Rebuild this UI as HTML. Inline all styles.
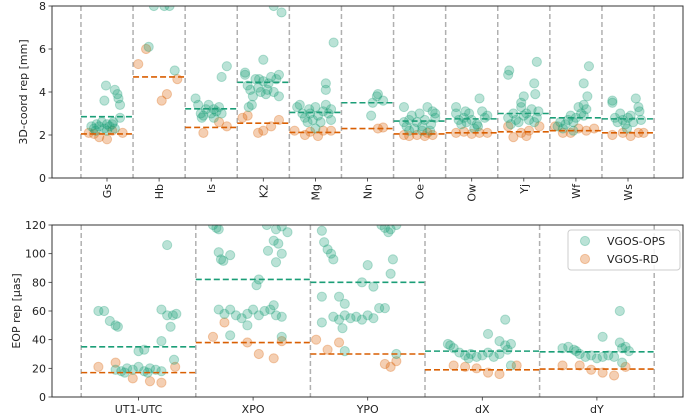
<!DOCTYPE html>
<html><head><meta charset="utf-8"><style>
body{margin:0;background:#fff}
svg{display:block;font-family:"DejaVu Sans","Liberation Sans",sans-serif}
</style></head><body>
<svg id="chart" width="685" height="416" xmlns="http://www.w3.org/2000/svg">
<defs>
<clipPath id="clipTop"><rect x="52" y="6" width="631" height="172"/></clipPath>
<clipPath id="clipBot"><rect x="52" y="225" width="631" height="172"/></clipPath>
</defs>
<g id="top"></g>
<g id="bot"></g>
</svg>
<script>
const topCats=["Gs","Hb","Is","K2","Mg","Nn","Oe","Ow","Yj","Wf","Ws"];
const topTicks=[0,2,4,6,8];
const topGreenMean=[2.85,8.6,3.22,4.45,3.05,3.5,2.65,2.75,3.0,2.8,2.75];
const topOrangeMean=[2.05,4.7,2.35,2.55,2.12,2.3,2.05,2.1,2.15,2.2,2.1];
const topGreenPts=[
[0,-.3,2.4],[0,-.25,2.3],[0,-.2,2.5],[0,-.15,2.4],[0,-.1,2.6],[0,-.05,2.3],[0,0,2.5],[0,.05,2.4],[0,.1,2.5],[0,.15,2.3],[0,-.22,2.2],[0,0,2.2],[0,-.02,4.3],[0,-.05,3.6],[0,.15,4.1],[0,.2,3.9],[0,.22,3.7],[0,.25,3.4],[0,.25,2.8],[0,.12,2.6],
[1,-.1,8],[1,.1,8],[1,.2,8],[1,-.2,6.1],[1,.3,5.0],
[2,-.3,3.7],[2,-.25,3.4],[2,-.2,3.0],[2,-.15,2.9],[2,-.1,3.2],[2,-.05,3.4],[2,0,3.0],[2,.05,2.8],[2,.1,3.1],[2,.15,3.3],[2,.2,3.0],[2,-.18,2.8],[2,.05,3.2],[2,.3,5.2],[2,.2,4.7],
[3,-.35,4.8],[3,-.35,4.9],[3,-.3,4.3],[3,-.25,4.1],[3,-.2,3.8],[3,-.15,4.6],[3,-.1,4.2],[3,-.05,4.0],[3,0,4.5],[3,.05,3.9],[3,.1,4.4],[3,.15,4.7],[3,.2,4.0],[3,.25,4.6],[3,.3,4.8],[3,.3,3.8],[3,-.28,3.3],[3,-.22,3.4],[3,0,5.5],[3,.2,8],[3,.35,7.7],[3,.08,4.1],[3,-.08,4.6],
[4,-.35,3.3],[4,-.3,3.4],[4,-.25,3.0],[4,-.2,2.8],[4,-.15,2.6],[4,-.1,3.0],[4,-.05,2.7],[4,0,3.3],[4,.05,2.9],[4,.1,2.6],[4,.15,3.1],[4,.2,3.4],[4,.25,3.0],[4,.3,3.2],[4,.3,2.7],[4,-.12,3.2],[4,.35,6.3],[4,.2,4.4],[4,.2,4.1],[4,0,2.3],
[5,.1,3.5],[5,.2,3.9],[5,.3,3.6],[5,.07,2.9],[5,.18,3.8],
[6,-.3,3.3],[6,-.3,2.6],[6,-.25,2.4],[6,-.2,2.7],[6,-.15,2.9],[6,-.1,2.3],[6,-.05,2.6],[6,0,3.0],[6,.05,2.4],[6,.1,2.7],[6,.15,3.3],[6,.2,2.2],[6,.25,3.1],[6,.3,2.8],[6,.3,3.0],[6,.05,2.2],[6,-.2,2.2],[6,.22,2.5],
[7,-.3,3.3],[7,-.3,3.0],[7,-.25,2.7],[7,-.2,2.5],[7,-.15,2.8],[7,-.1,2.6],[7,-.05,3.0],[7,0,2.7],[7,.05,2.3],[7,.1,2.5],[7,.15,3.7],[7,.2,3.1],[7,.25,2.8],[7,.3,2.9],[7,.12,2.4],[7,-.12,3.1],
[8,-.3,4.8],[8,-.28,5.0],[8,-.3,2.8],[8,-.25,2.5],[8,-.2,3.0],[8,-.15,2.7],[8,-.1,2.6],[8,-.05,3.3],[8,0,2.9],[8,.05,3.0],[8,.1,2.7],[8,.15,3.2],[8,.2,2.6],[8,.25,2.8],[8,.28,3.1],[8,.25,5.4],[8,.2,4.4],[8,.22,3.9],[8,-.05,3.5],[8,0,3.8],
[9,-.35,2.4],[9,-.3,2.6],[9,-.25,2.3],[9,-.2,2.5],[9,-.15,2.7],[9,-.1,2.9],[9,-.05,2.6],[9,0,2.8],[9,.05,3.3],[9,.1,3.0],[9,.15,3.4],[9,.2,3.2],[9,.15,2.9],[9,.25,5.2],[9,.15,4.4],[9,.22,3.8],[9,-.05,2.2],
[10,-.3,3.6],[10,-.3,3.5],[10,-.25,2.8],[10,-.2,2.6],[10,-.15,3.0],[10,-.1,2.7],[10,-.05,2.5],[10,0,2.8],[10,.05,2.9],[10,.1,2.6],[10,.15,3.7],[10,.2,3.3],[10,.22,3.1],[10,.25,2.7],[10,-.02,2.3]];
const topOrangePts=[
[0,-.35,2.1],[0,-.15,1.9],[0,0,1.8],[0,.1,2.2],[0,.3,2.1],[0,-.25,2.05],
[1,-.4,5.3],[1,-.25,6.0],[1,.05,3.6],[1,.15,3.9],[1,.35,4.6],
[2,-.15,2.1],[2,.15,2.6],[2,.3,2.4],
[3,-.4,2.8],[3,-.3,2.9],[3,-.1,2.1],[3,0,2.2],[3,.15,2.4],[3,.3,2.7],
[4,-.4,2.2],[4,-.2,2.0],[4,.05,1.95],[4,.15,2.2],[4,.3,2.2],[4,-.1,2.15],
[5,.2,2.3],[5,.3,2.35],
[6,-.3,2.0],[6,-.2,1.95],[6,-.05,2.0],[6,.1,1.95],[6,.25,2.0],[6,.15,2.1],
[7,-.3,2.1],[7,-.15,2.15],[7,0,2.05],[7,.15,2.1],[7,.3,2.1],
[8,-.3,2.4],[8,-.2,1.9],[8,-.05,2.1],[8,.1,2.2],[8,.3,2.4],[8,.05,1.95],
[9,-.4,2.4],[9,-.25,2.1],[9,-.1,2.1],[9,.05,2.3],[9,.2,2.2],[9,.35,2.3],
[10,-.3,2.0],[10,-.1,2.1],[10,.05,1.95],[10,.2,2.1],[10,.3,2.1]];

const botCats=["UT1-UTC","XPO","YPO","dX","dY"];
const botTicks=[0,20,40,60,80,100,120];
const botGreenMean=[35,82,80,32,31.5];
const botOrangeMean=[17,38,30,19,19.5];
const botGreenPts=[
[0,-.35,60],[0,-.3,60],[0,-.25,53],[0,-.2,50],[0,-.18,49],[0,-.2,19],[0,-.15,18],[0,-.1,20],[0,-.05,19],[0,0,21],[0,.05,18],[0,.1,20],[0,.15,19],[0,.2,18],[0,-.12,17],[0,.08,17],[0,0,32],[0,.05,33],[0,.2,39],[0,.2,61],[0,.25,57],[0,.3,57],[0,.28,49],[0,.33,58],[0,.31,26],[0,.25,106],
[1,-.35,120],[1,-.32,118],[1,-.3,117],[1,-.3,101],[1,-.28,96],[1,-.26,95],[1,-.2,99],[1,.05,82],[1,.03,78],[1,.13,102],[1,.12,120],[1,.2,117],[1,.25,119],[1,.18,109],[1,.22,107],[1,.25,100],[1,.2,94],[1,.3,115],
[1,-.3,61],[1,-.25,58],[1,-.2,61],[1,-.15,57],[1,-.1,55],[1,-.05,58],[1,0,61],[1,.05,57],[1,.1,60],[1,.15,61],[1,.2,57],[1,.25,56],[1,.18,64],[1,-.2,43],[1,-.05,50],[1,.25,42],
[2,-.4,116],[2,-.38,108],[2,-.35,103],[2,-.32,100],[2,-.3,96],[2,-.4,70],[2,-.4,52],[2,.12,120],[2,.15,118],[2,.2,117],[2,.25,120],[2,.18,115],[2,0,92],[2,-.05,80],[2,.05,77],[2,-.25,70],[2,-.2,65],[2,.15,62],[2,.1,62],[2,-.3,56],[2,-.25,54],[2,-.2,57],[2,-.15,55],[2,-.1,56],[2,-.05,54],[2,0,57],[2,.05,55],[2,-.22,48],[2,-.2,32],[2,.25,30],[2,.2,86],[2,.22,96],
[3,-.3,37],[3,-.28,36],[3,-.25,34],[3,-.2,31],[3,-.15,29],[3,-.1,30],[3,-.05,28],[3,0,29],[3,.05,31],[3,.1,28],[3,.15,30],[3,.2,36],[3,.25,37],[3,.22,33],[3,-.12,27],[3,.05,44],[3,.2,54],[3,.15,39],[3,.25,22],
[4,-.3,34],[4,-.25,35],[4,-.2,33],[4,-.15,30],[4,-.1,28],[4,-.05,29],[4,0,27],[4,.05,28],[4,.1,29],[4,.15,28],[4,.2,38],[4,.25,35],[4,.22,34],[4,.28,32],[4,-.18,32],[4,.05,42],[4,.2,60],[4,.22,24]];
const botOrangePts=[
[0,-.35,21],[0,-.2,24],[0,-.05,13],[0,.1,11],[0,.2,10],[0,.32,21],
[1,-.25,52],[1,-.35,42],[1,-.05,38],[1,.05,30],[1,.18,27],[1,.25,39],
[2,-.45,40],[2,-.35,33],[2,-.25,38],[2,.15,23],[2,.2,21],[2,.25,25],
[3,-.25,22],[3,-.15,21],[3,-.05,20],[3,.05,17],[3,.15,16],[3,.3,22],
[4,-.3,22],[4,-.15,22],[4,-.05,19],[4,.05,17],[4,.15,15],[4,.25,21]];

const NS="http://www.w3.org/2000/svg";
const GREEN="#1b9e77",ORANGE="#d95f02";
function mk(parent,tag,attrs,text){const e=document.createElementNS(NS,tag);for(const k in attrs)e.setAttribute(k,attrs[k]);if(text!==undefined)e.textContent=text;parent.appendChild(e);return e;}

function panel(g,cfg){
  const {left,right,top,bottom,x0,dx,ymax,cats,ticks,gm,om,gp,op,clip,rotate}=cfg;
  const xs=i=>x0+dx*i;
  const ys=v=>bottom-(v/ymax)*(bottom-top);
  for(let i=0;i<=cats.length;i++){
    const l=mk(g,'line',{x1:xs(i-0.5),x2:xs(i-0.5),y1:top,y2:bottom,stroke:'#b0b0b0','stroke-width':1.5,'stroke-dasharray':'5,3'});
    
    
  }
  const pg=mk(g,'g',{'clip-path':`url(#${clip})`});
  
  
  op.forEach(p=>{const c=mk(pg,'circle',{cx:xs(p[0]+p[1]),cy:ys(p[2]),r:4.6,fill:ORANGE,'fill-opacity':0.3,stroke:ORANGE,'stroke-opacity':0.3});
    
    });
  gp.forEach(p=>{const c=mk(pg,'circle',{cx:xs(p[0]+p[1]),cy:ys(p[2]),r:4.6,fill:GREEN,'fill-opacity':0.3,stroke:GREEN,'stroke-opacity':0.3});
    
    });
  cats.forEach((c,i)=>{
    const a=mk(pg,'line',{x1:xs(i-0.5),x2:xs(i+0.5),y1:ys(gm[i]),y2:ys(gm[i]),stroke:GREEN,'stroke-width':1.6,'stroke-dasharray':'6,3'});
    
    
    const b=mk(pg,'line',{x1:xs(i-0.5),x2:xs(i+0.5),y1:ys(om[i]),y2:ys(om[i]),stroke:ORANGE,'stroke-width':1.6,'stroke-dasharray':'6,3'});
    
    
    mk(g,'line',{x1:xs(i),x2:xs(i),y1:bottom,y2:bottom+3.5,stroke:'#333','stroke-width':0.8});
    let t;
    if(rotate){t=mk(g,'text',{x:0,y:0,transform:`translate(${xs(i)+4},${bottom+6}) rotate(-90)`,'text-anchor':'end','font-size':11,fill:'#222'},c);}
    else{t=mk(g,'text',{x:xs(i),y:bottom+16,'text-anchor':'middle','font-size':11,fill:'#222'},c);}
    
    
  });
  ticks.forEach(v=>{
    mk(g,'line',{x1:left-3.5,x2:left,y1:ys(v),y2:ys(v),stroke:'#333','stroke-width':0.8});
    const t=mk(g,'text',{x:left-6,y:ys(v)+4,'text-anchor':'end','font-size':11,fill:'#222'},String(v));
    
    
  });
  const fr=mk(g,'rect',{x:left,y:top,width:right-left,height:bottom-top,fill:'none',stroke:'#333','stroke-width':1});
  
  
}
const gt=document.getElementById('top'),gb=document.getElementById('bot');
panel(gt,{left:52,right:683,top:6,bottom:178,x0:107,dx:52.1,ymax:8,cats:topCats,ticks:topTicks,gm:topGreenMean,om:topOrangeMean,gp:topGreenPts,op:topOrangePts,clip:'clipTop',rotate:true});
panel(gb,{left:52,right:683,top:225,bottom:397,x0:138.5,dx:114.6,ymax:120,cats:botCats,ticks:botTicks,gm:botGreenMean,om:botOrangeMean,gp:botGreenPts,op:botOrangePts,clip:'clipBot',rotate:false});
</script>
<div style="position:absolute;left:0;top:0;width:685px;height:416px;pointer-events:none">
<svg width="685" height="416" style="position:absolute;left:0;top:0;font-family:'DejaVu Sans','Liberation Sans',sans-serif">
<text transform="translate(27,92) rotate(-90)" text-anchor="middle" font-size="11" fill="#222">3D-coord rep [mm]</text>
<text transform="translate(20,311) rotate(-90)" text-anchor="middle" font-size="11" fill="#222">EOP rep [μas]</text>
<g>
<rect x="568" y="230" width="112" height="40" rx="3" fill="#fff" fill-opacity="0.85" stroke="#ccc"/>
<circle cx="585" cy="241" r="4.6" fill="#1b9e77" fill-opacity="0.3" stroke="#1b9e77" stroke-opacity="0.3"/>
<text x="607" y="245" font-size="11" fill="#222">VGOS-OPS</text>
<circle cx="585" cy="259" r="4.6" fill="#d95f02" fill-opacity="0.3" stroke="#d95f02" stroke-opacity="0.3"/>
<text x="607" y="263" font-size="11" fill="#222">VGOS-RD</text>
</g>
</svg>
</div>
</body></html>
